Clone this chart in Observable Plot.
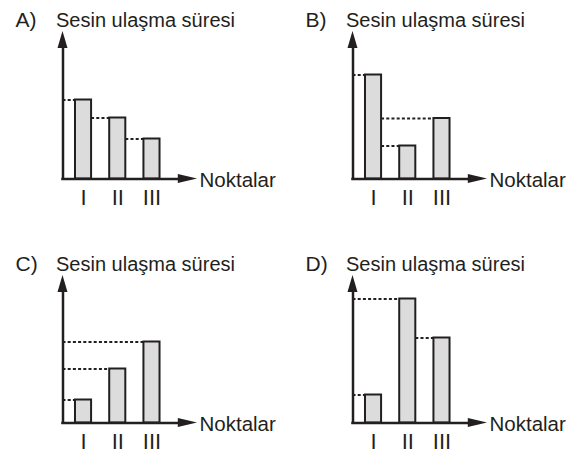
<!DOCTYPE html>
<html>
<head>
<meta charset="utf-8">
<script src="https://cdn.jsdelivr.net/npm/d3@7"></script>
<script src="https://cdn.jsdelivr.net/npm/@observablehq/plot@0.6"></script>
<style>
  html, body { margin: 0; padding: 0; background: #fff; }
  #wrap { position: relative; width: 581px; height: 453px; overflow: hidden; background: #fff; }
  .panel { position: absolute; }
</style>
</head>
<body>
<div id="wrap"></div>
<script>
// ---- data ----
const panelLetters = ["A", "B", "C", "D"];
const points = ["I", "II", "III"];
const yTitle = "Sesin ulaşma süresi";
const xTitle = "Noktalar";
const valuesA = [7.9, 6.1, 4.0];
const valuesB = [10.4, 3.3, 6.05];
const valuesC = [2.3, 5.4, 8.1];
const valuesD = [2.8, 12.4, 8.5];
const panelValues = [valuesA, valuesB, valuesC, valuesD];

// ---- layout / style ----
const ink = "#231f20";
const barFill = "#dcdcdc";
const font = "'Liberation Sans', Arial, Helvetica, sans-serif";
const W = 290, H = 210;
const lefts = [0, 289.5, 0, 289.5];
const tops = [0, 0, 244.3, 244.3];
const xMax = 3.93;        // arrow tip (x units)
const yMax = 14.75;       // arrow tip (y units)
const barOffset = 0.6;    // first bar centre from axis
const halfW = 0.235;      // half bar width
const xArrowBase = 3.37, xArrowHalf = 0.45;
const yArrowBase = 13.05, yArrowHalf = 5 / 34.25;

const wrap = document.getElementById("wrap");

panelLetters.forEach((letter, p) => {
  const vals = panelValues[p];
  const bars = points.map((name, i) => ({name, v: vals[i], c: barOffset + i}));
  const guides = bars.map((b, i) => {
    let start = 0;
    for (let j = i - 1; j >= 0; j--) {
      if (bars[j].v > b.v) { start = bars[j].c + halfW; break; }
    }
    return {v: b.v, x1: start, x2: b.c - halfW};
  });

  const svg = Plot.plot({
    width: W,
    height: H,
    marginLeft: 62.5,
    marginRight: W - 197,
    marginTop: 31,
    marginBottom: H - 178.5,
    x: {domain: [0, xMax], axis: null},
    y: {domain: [0, yMax], axis: null},
    style: {fontFamily: font, background: "transparent", overflow: "visible"},
    marks: [
      // dotted guides
      Plot.ruleY(guides, {y: "v", x1: "x1", x2: "x2", stroke: ink, strokeWidth: 2, strokeDasharray: "3,2.2"}),
      // bars
      Plot.rect(bars, {x1: d => d.c - halfW, x2: d => d.c + halfW, y1: 0, y2: "v",
        fill: barFill, stroke: ink, strokeWidth: 2}),
      // axes
      Plot.ruleX([0], {y1: 0, y2: yArrowBase + 0.3, stroke: ink, strokeWidth: 2.5, strokeLinecap: "square"}),
      Plot.ruleY([0], {x1: 0, x2: xArrowBase + 0.05, stroke: ink, strokeWidth: 2.5, strokeLinecap: "square"}),
      // arrow heads
      Plot.areaY([{x: xArrowBase, y1: -xArrowHalf, y2: xArrowHalf}, {x: xMax, y1: 0, y2: 0}],
        {x: "x", y1: "y1", y2: "y2", fill: ink}),
      Plot.areaX([{y: yArrowBase, x1: -yArrowHalf, x2: yArrowHalf}, {y: yMax, x1: 0, x2: 0}],
        {y: "y", x1: "x1", x2: "x2", fill: ink}),
      // tick labels
      Plot.text(bars, {x: "c", text: "name", frameAnchor: "bottom", dy: 25.5, lineAnchor: "bottom",
        fontSize: 22, fill: ink}),
      // x title
      Plot.text([xTitle], {frameAnchor: "bottom-right", textAnchor: "start", lineAnchor: "middle",
        dx: 2, dy: 1.5, fontSize: 20.5, fill: ink}),
      // panel letter and y title
      Plot.text([letter + ")"], {frameAnchor: "top-left", textAnchor: "start", lineAnchor: "bottom",
        dx: -47.5, dy: -5, fontSize: 21, fill: ink}),
      Plot.text([yTitle], {frameAnchor: "top-left", textAnchor: "start", lineAnchor: "bottom",
        dx: -7, dy: -5, fontSize: 20, fill: ink})
    ]
  });
  const div = document.createElement("div");
  div.className = "panel";
  div.style.left = lefts[p] + "px";
  div.style.top = tops[p] + "px";
  div.appendChild(svg);
  wrap.appendChild(div);
});
</script>
</body>
</html>
